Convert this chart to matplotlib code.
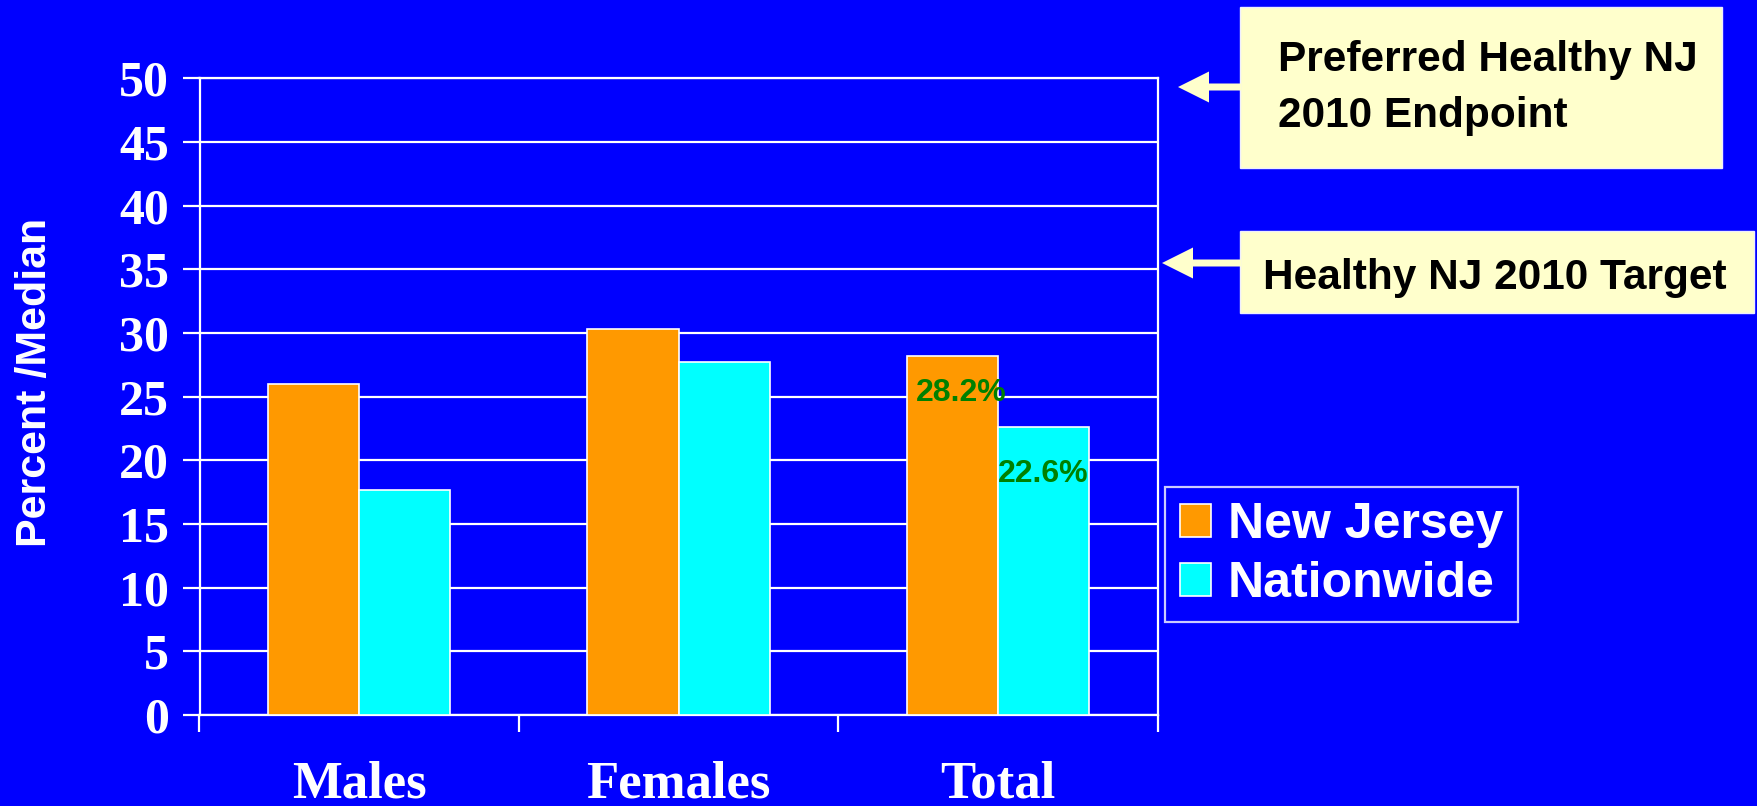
import matplotlib
matplotlib.use("Agg")
import matplotlib.pyplot as plt
from matplotlib.patches import Rectangle, FancyArrow
import numpy as np

# ---- data ----
categories = ["Males", "Females", "Total"]
series_names = ["New Jersey", "Nationwide"]
new_jersey = [26.0, 30.3, 28.2]
nationwide = [17.7, 27.7, 22.6]
y_ticks = [0, 5, 10, 15, 20, 25, 30, 35, 40, 45, 50]
total_labels = ["28.2%", "22.6%"]
target_texts = ["Preferred Healthy NJ\n2010 Endpoint", "Healthy NJ 2010 Target"]

BLUE = "#0000FF"
ORANGE = "#FF9900"
CYAN = "#00FFFF"
BOXC = "#FFFFCC"
W, H = 1757, 806

fig = plt.figure(figsize=(W / 100, H / 100), dpi=100, facecolor=BLUE)
ax = fig.add_axes([199.5 / W, 1 - 715 / H, (1157.5 - 199.5) / W, (715 - 78.4) / H])
ax.set_facecolor(BLUE)

x = np.arange(len(categories))
bw = 0.286
b1 = ax.bar(x - bw / 2, new_jersey, bw, color=ORANGE, edgecolor="white", linewidth=1.2,
            label=series_names[0], zorder=3)
b2 = ax.bar(x + bw / 2, nationwide, bw, color=CYAN, edgecolor="white", linewidth=1.2,
            label=series_names[1], zorder=3)

ax.set_xlim(-0.5, len(categories) - 0.5)
ax.set_ylim(0, 50)
ax.set_yticks(y_ticks)
ax.yaxis.grid(True, color="white", linewidth=1.6, zorder=0)
ax.set_axisbelow(True)

for s in ax.spines.values():
    s.set_color("white")
    s.set_linewidth(1.6)

serif = {"family": "Liberation Serif", "weight": "bold"}
ax.set_yticklabels([str(v) for v in y_ticks], fontdict=serif, fontsize=36, color="white")
ax.tick_params(axis="y", length=12, width=1.6, color="white", pad=10, direction="out")

ax.set_xticks(x)
ax.set_xticklabels(categories, fontdict=serif, fontsize=38, color="white")
ax.tick_params(axis="x", which="major", length=0, pad=33)
ax.set_xticks(np.arange(len(categories) + 1) - 0.5, minor=True)
ax.tick_params(axis="x", which="minor", length=12, width=1.6, color="white", direction="out")

ax.set_ylabel("Percent /Median", family="Liberation Sans", weight="bold", fontsize=31,
              color="white")
ax.yaxis.set_label_coords((55 - 199.5) / (1157.5 - 199.5), (715 - 382) / (715 - 78.4))

# data labels on the Total group
ti = categories.index("Total")
ax.text(x[ti] - bw / 2 + 0.03, new_jersey[ti] - 2.9, total_labels[0], ha="center", va="center",
        color="#008000", family="Liberation Sans", weight="bold", fontsize=23, zorder=5)
ax.text(x[ti] + bw / 2, nationwide[ti] - 3.7, total_labels[1], ha="center", va="center",
        color="#008000", family="Liberation Sans", weight="bold", fontsize=23, zorder=5)

# legend
leg = fig.legend(handles=[b1, b2], labels=series_names, loc="upper left",
                 bbox_to_anchor=(1165 / W, 1 - 487 / H), borderaxespad=0,
                 prop={"family": "Liberation Sans", "weight": "bold", "size": 36},
                 frameon=True, fancybox=False, facecolor=BLUE, edgecolor="white",
                 handlelength=0.62, handleheight=0.62, handletextpad=0.33,
                 labelspacing=0.26, borderpad=0.3)
leg.get_frame().set_linewidth(1.6)
for t in leg.get_texts():
    t.set_color("white")

# annotation boxes and arrows (figure pixels -> fraction)
def fx(v):
    return v / W

def fy(v):
    return 1 - v / H

fig.add_artist(Rectangle((fx(1240), fy(168)), fx(1722) - fx(1240), fy(7) - fy(168),
                         transform=fig.transFigure, facecolor=BOXC, edgecolor="#EEEEFF", lw=1))
fig.add_artist(Rectangle((fx(1240), fy(313)), fx(1754) - fx(1240), fy(231) - fy(313),
                         transform=fig.transFigure, facecolor=BOXC, edgecolor="#EEEEFF", lw=1))
fig.text(fx(1278), fy(88), target_texts[0], ha="left", va="center", family="Liberation Sans",
         weight="bold", fontsize=30.5, color="black", linespacing=1.5)
fig.text(fx(1263), fy(278), target_texts[1], ha="left", va="center", family="Liberation Sans",
         weight="bold", fontsize=30.5, color="black")

for tip, yy in [(1178, 87), (1162, 263)]:
    fig.add_artist(FancyArrow(fx(1241), fy(yy), fx(tip) - fx(1241), 0, width=7 / H,
                              head_width=31 / H, head_length=31 / W,
                              length_includes_head=True, transform=fig.transFigure,
                              color=BOXC, lw=0))

fig.savefig("out.png", dpi=100, facecolor=BLUE)
